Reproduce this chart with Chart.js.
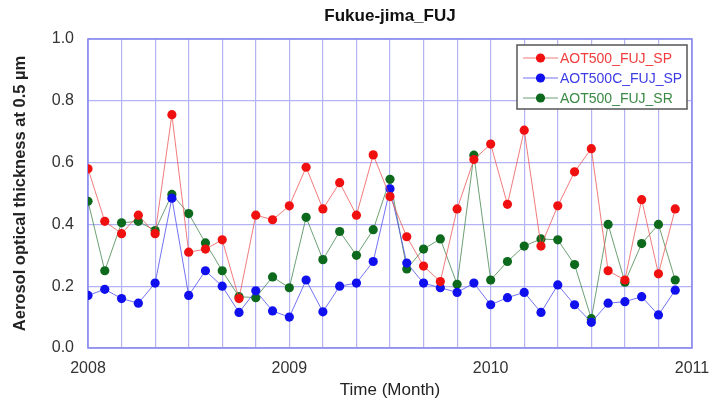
<!DOCTYPE html>
<html>
<head>
<meta charset="utf-8">
<title>Fukue-jima_FUJ</title>
<script src="https://cdn.jsdelivr.net/npm/chart.js@4.4.1/dist/chart.umd.min.js"></script>
<style>
    html, body { margin: 0; padding: 0; background: #fff; }
    #wrap { width: 712px; height: 401px; }
</style>
</head>
<body>
<div id="wrap"><canvas id="chart" width="712" height="401"></canvas></div>
<script>
// monthly values, Jan 2008 .. Dec 2010
let yearLabels = ['2008', '2009', '2010', '2011'];
let yTicks = [0.0, 0.2, 0.4, 0.6, 0.8, 1.0];

let aot500Sp = [
    0.58, 0.41, 0.37, 0.43, 0.37, 0.755, 0.31, 0.32, 0.35, 0.16, 0.43, 0.415,
    0.46, 0.585, 0.45, 0.535, 0.43, 0.625, 0.49, 0.36, 0.265, 0.215, 0.45, 0.61,
    0.66, 0.465, 0.705, 0.33, 0.46, 0.57, 0.645, 0.25, 0.22, 0.48, 0.24, 0.45
];
let aot500cSp = [
    0.17, 0.19, 0.16, 0.145, 0.21, 0.485, 0.17, 0.25, 0.20, 0.115, 0.185, 0.12,
    0.10, 0.22, 0.117, 0.20, 0.21, 0.28, 0.515, 0.275, 0.21, 0.195, 0.18, 0.21,
    0.14, 0.163, 0.18, 0.115, 0.204, 0.14, 0.083, 0.145, 0.15, 0.166, 0.107, 0.187
];
let aot500Sr = [
    0.475, 0.25, 0.405, 0.41, 0.38, 0.497, 0.435, 0.34, 0.25, 0.166, 0.163, 0.23,
    0.195, 0.423, 0.286, 0.377, 0.30, 0.383, 0.546, 0.256, 0.32, 0.353, 0.206, 0.624,
    0.22, 0.28, 0.33, 0.353, 0.35, 0.27, 0.095, 0.40, 0.213, 0.338, 0.40, 0.22
];

let seriesNames = ['AOT500_FUJ_SP', 'AOT500C_FUJ_SP', 'AOT500_FUJ_SR'];

let fontFamily = '"Liberation Sans", Arial, sans-serif';

let toPoints = (values) => values.map((v, i) => ({ x: i, y: v }));

let makeSet = function(label, values, dot, line, text) {
    return {
        label: label,
        data: toPoints(values),
        borderColor: line,
        backgroundColor: dot,
        pointBackgroundColor: dot,
        pointBorderWidth: 0,
        pointRadius: 4.6,
        borderWidth: 1,
        tension: 0,
        textColor: text
    };
};

// frame round the plot, legend box and title
let decor = {
    id: 'decor',
    beforeDatasetsDraw(chart) {
        let a = chart.chartArea;
        let ctx = chart.ctx;
        ctx.save();
        ctx.strokeStyle = '#8a8af0';
        ctx.lineWidth = 1.6;
        ctx.strokeRect(a.left, a.top, a.right - a.left, a.bottom - a.top);
        ctx.restore();
    },
    afterDraw(chart) {
        let a = chart.chartArea;
        let ctx = chart.ctx;
        ctx.save();

        ctx.fillStyle = '#111';
        ctx.font = 'bold 17px ' + fontFamily;
        ctx.textAlign = 'center';
        ctx.textBaseline = 'middle';
        ctx.fillText('Fukue-jima_FUJ', (a.left + a.right) / 2, 16);

        let bx = 517, by = 45, bw = 170, bh = 64;
        ctx.fillStyle = '#fff';
        ctx.fillRect(bx, by, bw, bh);
        ctx.strokeStyle = '#555';
        ctx.lineWidth = 1.5;
        ctx.strokeRect(bx, by, bw, bh);

        ctx.font = '14px ' + fontFamily;
        ctx.textAlign = 'left';
        chart.data.datasets.forEach((ds, i) => {
            let y = by + 13 + i * 20;
            ctx.strokeStyle = ds.borderColor;
            ctx.lineWidth = 1.2;
            ctx.beginPath();
            ctx.moveTo(bx + 6, y);
            ctx.lineTo(bx + 41, y);
            ctx.stroke();
            ctx.fillStyle = ds.pointBackgroundColor;
            ctx.beginPath();
            ctx.arc(bx + 23.5, y, 4.6, 0, Math.PI * 2);
            ctx.fill();
            ctx.fillStyle = ds.textColor;
            ctx.fillText(ds.label, bx + 43, y + 1);
        });
        ctx.restore();
    }
};

let ctx = document.getElementById('chart').getContext('2d');
let chart = new Chart(ctx, {
    type: 'line',
    data: {
        datasets: [
            makeSet(seriesNames[0], aot500Sp, '#f01010', 'rgba(235,80,80,0.75)', '#f03c3c'),
            makeSet(seriesNames[1], aot500cSp, '#1010ee', 'rgba(80,80,240,0.8)', '#3c3ce6'),
            makeSet(seriesNames[2], aot500Sr, '#0d6a1c', 'rgba(60,130,70,0.75)', '#3a8a44')
        ]
    },
    options: {
        responsive: false,
        animation: false,
        layout: { padding: { top: 39, right: 20, left: 0, bottom: 0 } },
        plugins: {
            legend: { display: false },
            title: { display: false },
            tooltip: { enabled: false }
        },
        scales: {
            x: {
                type: 'linear',
                min: 0,
                max: 36,
                afterFit(scale) {
                    scale.height = 53;
                    scale.paddingLeft = 0;
                    scale.paddingRight = 0;
                },
                afterBuildTicks(scale) {
                    let ticks = [];
                    for (let m = 0; m <= 36; m += 2) ticks.push({ value: m });
                    scale.ticks = ticks;
                },
                grid: {
                    color: '#b4b4f4',
                    lineWidth: 1.2,
                    drawTicks: false
                },
                border: { display: false },
                ticks: {
                    autoSkip: false,
                    maxRotation: 0,
                    padding: 11,
                    color: '#333',
                    font: { family: fontFamily, size: 16 },
                    callback: (v) => (v % 12 === 0 ? yearLabels[v / 12] : '')
                },
                title: {
                    display: true,
                    text: 'Time (Month)',
                    color: '#222',
                    padding: { top: 0, bottom: 0 },
                    font: { family: fontFamily, size: 17 }
                }
            },
            y: {
                min: 0,
                max: 1,
                afterFit(scale) { scale.width = 88; },
                afterBuildTicks(scale) {
                    scale.ticks = yTicks.map((v) => ({ value: v }));
                },
                grid: {
                    color: '#b4b4f4',
                    lineWidth: 1.2,
                    drawTicks: false
                },
                border: { display: false },
                ticks: {
                    padding: 14,
                    color: '#333',
                    font: { family: fontFamily, size: 16 },
                    callback: (v) => v.toFixed(1)
                },
                title: {
                    display: true,
                    text: 'Aerosol optical thickness at 0.5 µm',
                    color: '#222',
                    padding: { top: 11, bottom: 0 },
                    font: { family: fontFamily, size: 16.5, weight: 'bold' }
                }
            }
        }
    },
    plugins: [decor]
});
</script>
</body>
</html>
